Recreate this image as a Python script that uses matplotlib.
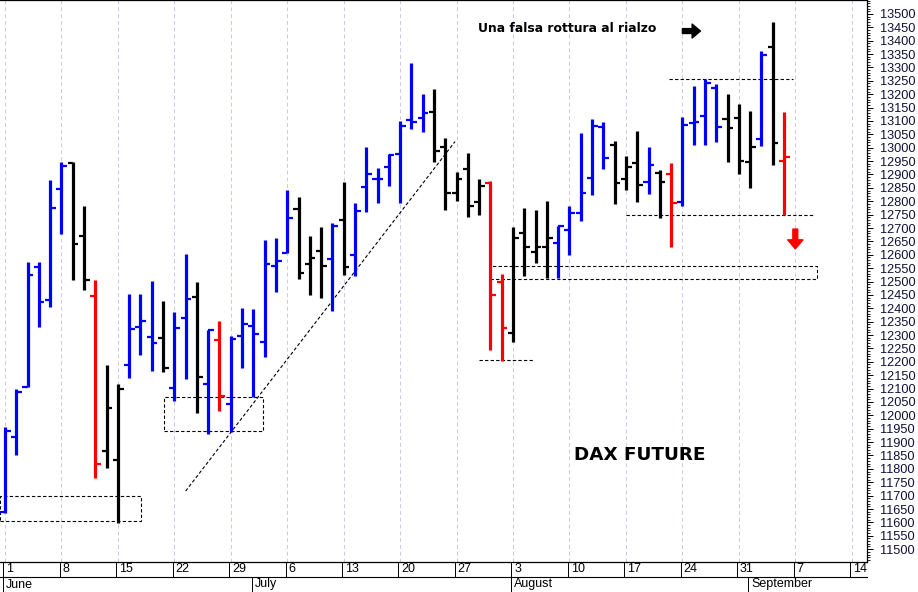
import numpy as np
import matplotlib
matplotlib.use("Agg")
import matplotlib.pyplot as plt
from matplotlib.patches import Rectangle
from matplotlib.ticker import FixedLocator
import matplotlib.transforms as mtransforms

# ---- data (DAX future daily bars, 1 Jun - 4 Sep 2020) ----
opens = [11640, 11920, 12107, 12555, 12431, 12845, 12944, 12671, 12446, 11867,
         11833, 12188, 12331, 12294, 12288, 12101, 12363, 12444, 12116, 12282,
         12043, 12298, 12334, 12273, 12558, 12606, 12770, 12565, 12614, 12583,
         12730, 12599, 12852, 12882, 12927, 12976, 13104, 13110, 13133, 13002,
         12832, 12920, 12799, 12867, 12500, 12309, 12680, 12612, 12628, 12643,
         12693, 12757, 12888, 13079, 13010, 12882, 12942, 12873, 12905, 12902,
         12799, 13094, 13119, 13222, 13106, 13110, 12948, 13032, 13376, 12951]
highs = [11955, 12097, 12572, 12574, 12880, 12946, 12946, 12782, 12506, 12188,
         12117, 12453, 12453, 12503, 12429, 12385, 12602, 12500, 12319, 12353,
         12298, 12402, 12398, 12655, 12662, 12842, 12817, 12670, 12705, 12718,
         12873, 12793, 13002, 12923, 12977, 13100, 13316, 13201, 13219, 13035,
         12911, 12982, 12882, 12877, 12527, 12705, 12774, 12768, 12802, 12709,
         12784, 13054, 13106, 13095, 13025, 12969, 13063, 13002, 12917, 12944,
         13114, 13231, 13256, 13238, 13200, 13163, 13138, 13363, 13469, 13135]
lows = [11634, 11852, 12105, 12329, 12404, 12678, 12506, 12469, 11765, 11802,
        11597, 12139, 12226, 12166, 12161, 12055, 12135, 12008, 11930, 12018,
        11939, 12176, 12070, 12219, 12460, 12606, 12509, 12450, 12438, 12390,
        12525, 12521, 12761, 12793, 12857, 12795, 13069, 13058, 12948, 12767,
        12801, 12740, 12749, 12244, 12204, 12273, 12521, 12571, 12512, 12512,
        12599, 12726, 12824, 12921, 12789, 12842, 12799, 12827, 12737, 12628,
        12784, 13010, 13010, 13023, 12946, 12902, 12849, 13008, 12936, 12749]
closes = [11942, 12086, 12525, 12423, 12775, 12932, 12639, 12506, 11818, 12026,
          12099, 12322, 12353, 12269, 12178, 12325, 12434, 12145, 12319, 12072,
          12285, 12341, 12303, 12565, 12577, 12739, 12533, 12589, 12558, 12709,
          12553, 12764, 12902, 12882, 12973, 13081, 13097, 13129, 12989, 12830,
          12883, 12782, 12857, 12450, 12325, 12662, 12628, 12628, 12662, 12709,
          12757, 12832, 13081, 12963, 12867, 12929, 12861, 12936, 12873, 12795,
          13085, 13097, 13241, 13079, 13073, 12951, 13004, 13347, 13017, 12967]
bar_colors = list("bbbbbbkkrkkbbbkbbkbrbbbbbbkkkbkbbbbbbbkkkkkrrkkkkbbbbbkkkbkrbbbbkkkbkr")

day_labels = ["1", "8", "15", "22", "29", "6", "13", "20", "27", "3", "10", "17", "24", "31", "7", "14"]
monday_index = [0, 5, 10, 15, 20, 25, 30, 35, 40, 45, 50, 55, 60, 65, 70, 75]
month_labels = ["June", "July", "August", "September"]
month_start_index = [0, 22, 45, 66]

cmap = {"b": "#0000ff", "k": "#000000", "r": "#ff0000"}
cols = [cmap[c] for c in bar_colors]

fig = plt.figure(figsize=(9.18, 5.92), dpi=100)
ax = fig.add_axes([0.0, 30 / 592, 867 / 918, 562 / 592])
ax.set_xlim(-0.44, 76.35)
ax.set_ylim(11452, 13552)

x = np.arange(len(opens))
# weekly gridlines
for m in monday_index:
    ax.axvline(m, color="#c8c8ec", lw=0.7, ls=(0, (4, 3)), zorder=0)

ax.vlines(x, lows, highs, colors=cols, lw=2.3, zorder=3)
ax.hlines(opens, x - 0.45, x, colors=cols, lw=1.6, zorder=3)
ax.hlines(closes, x, x + 0.5, colors=cols, lw=1.6, zorder=3)

dash = (0, (3, 2))
# annotation boxes and lines
ax.add_patch(Rectangle((-0.44, 11605), 12.5, 95, fill=False, ec="black", lw=0.8, ls=dash, zorder=2))
ax.add_patch(Rectangle((14.1, 11942), 8.75, 128, fill=False, ec="black", lw=0.8, ls=dash, zorder=2))
ax.add_patch(Rectangle((43.0, 12510), 28.9, 48, fill=False, ec="black", lw=0.8, ls=dash, zorder=2))
ax.plot([16.0, 39.86], [11717, 13023], color="black", lw=0.8, ls=dash, zorder=2)
ax.plot([42.0, 46.9], [12205, 12205], color="black", lw=0.8, ls=dash, zorder=2)
ax.plot([55.0, 71.7], [12749, 12749], color="black", lw=0.8, ls=dash, zorder=2)
ax.plot([58.8, 69.8], [13256, 13256], color="black", lw=0.8, ls=dash, zorder=2)

# arrows
ax.annotate("", xy=(70.0, 12622), xytext=(70.0, 12696),
            arrowprops=dict(facecolor="#ff0000", edgecolor="#ff0000", width=3.5,
                            headwidth=11, headlength=6.5, shrink=0))
ax.annotate("", xy=(61.6, 13436), xytext=(60.0, 13436),
            arrowprops=dict(facecolor="black", edgecolor="black", width=3.5,
                            headwidth=10, headlength=6, shrink=0))

ax.text(41.9, 13444, "Una falsa rottura al rialzo", fontsize=8.9, fontweight="bold",
        ha="left", va="center", family="DejaVu Sans")
ax.text(56.2, 11852, "DAX FUTURE", fontsize=13.2, fontweight="bold",
        ha="center", va="center", family="DejaVu Sans")

# y axis on the right
ax.yaxis.tick_right()
ax.yaxis.set_major_locator(FixedLocator(np.arange(11500, 13501, 50)))
ax.yaxis.set_minor_locator(FixedLocator(np.arange(11460, 13551, 10)))
ax.tick_params(axis="y", which="major", length=4.5, width=0.7, pad=5,
               labelsize=9.2, labelcolor="#10103a")
ax.tick_params(axis="y", which="minor", length=2.2, width=0.6)
for lab in ax.get_yticklabels():
    lab.set_family("Liberation Sans")

ax.set_xticks([])
ax.spines["left"].set_visible(False)
for s in ["top", "right", "bottom"]:
    ax.spines[s].set_linewidth(0.9)

# date rows under the axis
trans = mtransforms.blended_transform_factory(ax.transData, ax.transAxes)
row1 = -15 / 562
row2 = -30 / 562
ax.plot([-0.44, 76.35], [row1, row1], transform=trans, color="black", lw=0.8, clip_on=False)
for m, lab in zip(monday_index, day_labels):
    ax.plot([m - 0.15, m - 0.15], [0, row1], transform=trans, color="black", lw=0.7, clip_on=False)
    ax.text(m + 0.1, row1 / 2, lab, transform=trans, fontsize=9, ha="left", va="center",
            family="Liberation Sans")
for m, lab in zip(month_start_index, month_labels):
    ax.plot([m - 0.15, m - 0.15], [row1, row2], transform=trans, color="black", lw=0.7, clip_on=False)
    ax.text(m + 0.1, (row1 + row2) / 2, lab, transform=trans, fontsize=9, ha="left", va="center",
            family="Liberation Sans")

fig.savefig("out.png", dpi=100)
